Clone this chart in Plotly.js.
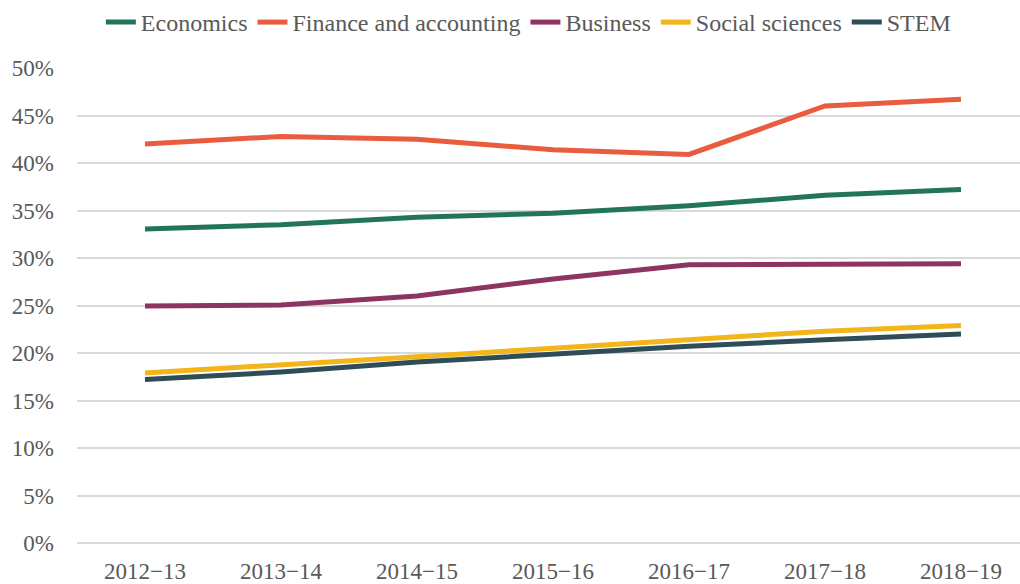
<!DOCTYPE html>
<html><head><meta charset="utf-8">
<script src="https://cdn.plot.ly/plotly-3.0.1.min.js"></script>
<style>html,body{margin:0;padding:0;background:#fff}#chart{width:1020px;height:584px}</style>
</head><body><div id="chart"></div>
<script>
const categories = ["2012\u221213","2013\u221214","2014\u221215","2015\u221216","2016\u221217","2017\u221218","2018\u221219"];
const economics = [33.05, 33.5, 34.3, 34.7, 35.5, 36.6, 37.2];
const finance = [42.0, 42.8, 42.5, 41.4, 40.9, 46.0, 46.7];
const business = [24.95, 25.05, 26.0, 27.8, 29.3, 29.3, 29.4];
const social = [17.9, 18.7, 19.6, 20.5, 21.4, 22.3, 22.9];
const stem = [17.2, 18.0, 19.05, 19.9, 20.7, 21.4, 22.0];
const yTicks = [0,5,10,15,20,25,30,35,40,45,50];

const FAM = "'Times New Roman', 'Liberation Serif', serif";
const series = [
  {name:"Economics", y:economics, color:"#22755A"},
  {name:"Finance and accounting", y:finance, color:"#EA5C3F"},
  {name:"Business", y:business, color:"#8E3461"},
  {name:"Social sciences", y:social, color:"#F2B51A"},
  {name:"STEM", y:stem, color:"#2F4D56"}
];
const traces = series.map(s => ({
  type:"scatter", mode:"lines", name:s.name, x:categories, y:s.y.map(v=>v/100),
  line:{color:s.color, width:5}, hoverinfo:"none"
}));
const layout = {
  width:1020, height:584,
  margin:{l:77, r:0, t:68, b:41},
  paper_bgcolor:"#fff", plot_bgcolor:"#fff",
  font:{family:FAM, color:"#595959", size:23},
  showlegend:true,
  legend:{orientation:"h", x:0.518, xref:"container", xanchor:"center", y:1, yanchor:"top", yref:"container",
    font:{family:FAM, size:24, color:"#595959"}, itemwidth:30, tracegroupgap:0, traceorder:"normal"},
  xaxis:{type:"category", range:[-0.5, 6.434], showgrid:false, zeroline:false, showline:false,
    ticks:"", ticklabelstandoff:12, tickfont:{family:FAM, size:23, color:"#595959"}},
  yaxis:{range:[0,0.5], tickvals:yTicks.map(v=>v/100), ticktext:yTicks.map(v=>v+"%"),
    showgrid:true, gridcolor:"#D9D9D9", gridwidth:2, zeroline:true, zerolinecolor:"#D9D9D9", zerolinewidth:2, showline:false,
    ticks:"", ticklabelstandoff:22, tickfont:{family:FAM, size:23, color:"#595959"}}
};
Plotly.newPlot("chart", traces, layout, {displayModeBar:false, staticPlot:true});
</script></body></html>
